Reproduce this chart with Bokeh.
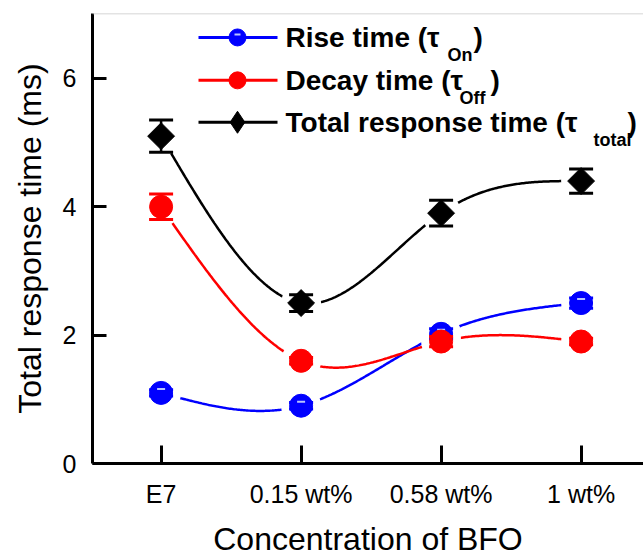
import numpy as np
from bokeh.plotting import figure
from bokeh.models import Label, Span, FixedTicker, Range1d
from bokeh.embed import file_html
from bokeh.resources import INLINE

# ---------------- data ----------------
categories = ["E7", "0.15 wt%", "0.58 wt%", "1 wt%"]
rise_time = [1.1, 0.9, 2.02, 2.5]
rise_err = [0.05, 0.05, 0.08, 0.08]
decay_time = [4.0, 1.6, 1.9, 1.9]
decay_err = [0.2, 0.05, 0.08, 0.05]
total_time = [5.1, 2.5, 3.9, 4.4]
total_err = [0.25, 0.13, 0.2, 0.19]
y_ticks = [0, 2, 4, 6]

# ---------------- layout ----------------
W, H = 643, 559
FL, FR, FT, FB = 92, 643, 13, 464          # frame edges in px
PX_X = 140.0                               # px per category step
PX_Y = 64.33                               # px per y unit
X0, X1 = -0.49, -0.49 + (FR - FL) / PX_X
Y0, Y1 = 0.0, (FB - FT) / PX_Y


def dx(px):
    return X0 + (px - FL) / PX_X


def dy(py):
    return Y0 + (FB - py) / PX_Y


def natural_spline(xs, ys, n=300):
    xs = np.asarray(xs, float)
    ys = np.asarray(ys, float)
    k = len(xs)
    h = np.diff(xs)
    A = np.zeros((k, k))
    b = np.zeros(k)
    A[0, 0] = 1
    A[-1, -1] = 1
    for i in range(1, k - 1):
        A[i, i - 1] = h[i - 1]
        A[i, i] = 2 * (h[i - 1] + h[i])
        A[i, i + 1] = h[i]
        b[i] = 6 * ((ys[i + 1] - ys[i]) / h[i] - (ys[i] - ys[i - 1]) / h[i - 1])
    M = np.linalg.solve(A, b)
    xx = np.linspace(xs[0], xs[-1], n)
    yy = np.empty_like(xx)
    for j, t in enumerate(xx):
        i = min(np.searchsorted(xs, t, side="right") - 1, k - 2)
        a, c = xs[i], xs[i + 1]
        hi = c - a
        yy[j] = (M[i] * (c - t) ** 3 / (6 * hi) + M[i + 1] * (t - a) ** 3 / (6 * hi)
                 + (ys[i] / hi - M[i] * hi / 6) * (c - t)
                 + (ys[i + 1] / hi - M[i + 1] * hi / 6) * (t - a))
    return xx, yy


xpos = list(range(len(categories)))

p = figure(width=W, height=H, output_backend="svg", toolbar_location=None,
           x_range=Range1d(X0, X1), y_range=Range1d(Y0, Y1),
           min_border_left=FL, min_border_right=0, min_border_top=FT,
           min_border_bottom=H - FB)
p.outline_line_color = None
p.xgrid.visible = False
p.ygrid.visible = False
p.background_fill_color = "white"
p.border_fill_color = "white"

FONT = "Liberation Sans"

# axes
for ax in (p.xaxis[0], p.yaxis[0]):
    ax.axis_line_width = 3
    ax.axis_line_color = "black"
    ax.major_tick_line_width = 3
    ax.major_tick_line_color = "black"
    ax.major_tick_out = 0
    ax.minor_tick_line_color = None
    ax.major_label_text_font = FONT
    ax.major_label_text_font_size = "25px"
    ax.major_label_text_color = "black"
    ax.axis_label_text_font = FONT
    ax.axis_label_text_font_size = "32px"
    ax.axis_label_text_font_style = "normal"
    ax.axis_label_text_color = "black"

p.xaxis.ticker = FixedTicker(ticks=xpos)
p.xaxis.major_label_overrides = {i: c for i, c in enumerate(categories)}
p.xaxis.major_tick_in = 18
p.xaxis.major_label_standoff = 16
p.xaxis.axis_label = "Concentration of BFO"
p.xaxis.axis_label_standoff = 10

p.yaxis.ticker = FixedTicker(ticks=y_ticks)
p.yaxis.major_tick_in = 14
p.yaxis.major_label_standoff = 16
p.yaxis.axis_label = "Total response time (ms)"
p.yaxis.axis_label_standoff = 12

p.add_layout(Span(location=Y1, dimension="width", line_color="#c8c8c8", line_width=1.5))

series = [
    ("blue", rise_time, rise_err, "circle"),
    ("red", decay_time, decay_err, "circle"),
    ("black", total_time, total_err, "diamond"),
]

# curves
for color, vals, err, mk in series:
    sx, sy = natural_spline(xpos, vals)
    p.line(sx, sy, line_color=color, line_width=2.5)

# white gaps around symbols
for color, vals, err, mk in series:
    p.scatter(xpos, vals, size=40, marker="circle", fill_color="white", line_color=None)

CAP = 12 / PX_X   # half cap width in data units
# error bars and markers
for color, vals, err, mk in series:
    up = [v + e for v, e in zip(vals, err)]
    lo = [v - e for v, e in zip(vals, err)]
    p.segment(x0=xpos, y0=lo, x1=xpos, y1=up, line_color=color, line_width=2.5)
    p.segment(x0=[x - CAP for x in xpos], y0=up, x1=[x + CAP for x in xpos], y1=up,
              line_color=color, line_width=3)
    p.segment(x0=[x - CAP for x in xpos], y0=lo, x1=[x + CAP for x in xpos], y1=lo,
              line_color=color, line_width=3)
    if mk == "diamond":
        p.scatter(xpos, vals, marker="square", angle=np.pi / 4,
                  size=19, fill_color=color, line_color=color)
    else:
        p.scatter(xpos, vals, marker="circle", size=23,
                  fill_color=color, line_color=color)
        if color == "blue":
            p.scatter(xpos, [v + 4 / PX_Y for v in vals], marker="dash", size=8,
                      line_color="#b8c4ff", line_width=2)

# ---------------- custom legend ----------------
rows = [37, 80, 122]
legend_main = ["Rise time (τ", "Decay time (τ", "Total response time (τ"]
legend_sub = ["On", "Off", "total"]
sub_x = [447, 459, 593]
close_x = [473, 490, 627]
for (color, vals, err, mk), ry, main, sub, sxp, cxp in zip(series, rows, legend_main,
                                                            legend_sub, sub_x, close_x):
    p.line([dx(198), dx(277)], [dy(ry), dy(ry)], line_color=color, line_width=3)
    if mk == "diamond":
        p.scatter([dx(237)], [dy(ry)], marker="diamond", size=22,
                  fill_color=color, line_color=color)
    else:
        p.scatter([dx(237)], [dy(ry)], marker="circle", size=17,
                  fill_color=color, line_color=color)
        if color == "blue":
            p.scatter([dx(237)], [dy(ry - 3)], marker="dash", size=6,
                      line_color="#b8c4ff", line_width=2)
    p.add_layout(Label(x=dx(285), y=dy(ry), text=main, text_font=FONT,
                       text_font_style="bold", text_font_size="28px",
                       text_baseline="middle", text_color="black"))
    p.add_layout(Label(x=dx(sxp), y=dy(ry + 18), text=sub, text_font=FONT,
                       text_font_style="bold", text_font_size="18px",
                       text_baseline="middle", text_color="black"))
    p.add_layout(Label(x=dx(cxp), y=dy(ry), text=")", text_font=FONT,
                       text_font_style="bold", text_font_size="28px",
                       text_baseline="middle", text_color="black"))

open("out.html", "w").write(file_html(p, INLINE))
